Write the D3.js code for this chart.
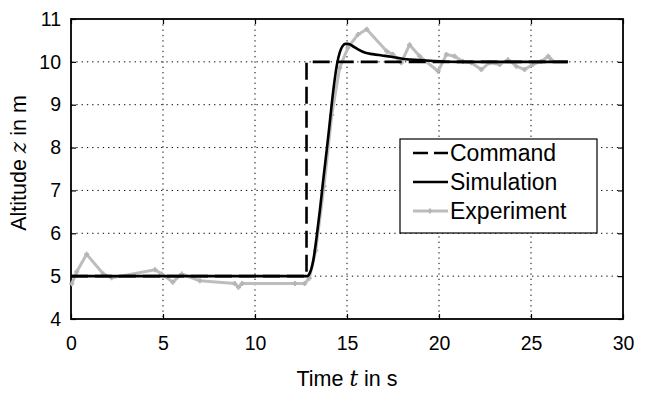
<!DOCTYPE html>
<html><head><meta charset="utf-8">
<script src="https://cdn.jsdelivr.net/npm/d3@7"></script>
<style>body{margin:0;background:#fff}svg{display:block}text{font-family:"Liberation Sans",Arial,sans-serif;fill:#000}</style>
</head><body><svg id="c" width="647" height="399"></svg>
<script>
// Axis ticks
const xTicks = [0, 5, 10, 15, 20, 25, 30];
const yTicks = [4, 5, 6, 7, 8, 9, 10, 11];

// Altitude command (step)
const commandT = [0, 12.8, 12.8, 27];
const commandZ = [5, 5, 10, 10];

// Simulated altitude response
const simT = [0, 12.85, 12.95, 13.05, 13.17, 13.35, 13.53, 13.71, 13.9, 14.08, 14.26, 14.45, 14.62, 14.75, 14.9, 15.07, 15.3, 15.6, 16.0, 16.4, 16.9, 17.4, 18.2, 19.0, 19.7, 21, 27];
const simZ = [5, 5, 5.05, 5.15, 5.37, 5.92, 6.55, 7.25, 7.95, 8.65, 9.35, 9.93, 10.24, 10.36, 10.42, 10.42, 10.37, 10.29, 10.21, 10.18, 10.15, 10.12, 10.06, 10.04, 10.02, 10.0, 10.0];

// Measured altitude in flight
const expT = [0.04, 0.31, 0.85, 1.76, 2.21, 4.57, 4.93, 5.53, 6.02, 7.0, 8.9, 9.1, 9.3, 12.17, 12.7, 12.95, 13.3, 13.75, 14.17, 14.6, 15.05, 15.6, 16.07, 17.16, 17.5, 17.95, 18.4, 18.95, 19.95, 20.4, 20.85, 21.3, 21.75, 22.3, 22.75, 23.3, 23.75, 24.2, 24.65, 25.1, 25.55, 25.94, 26.1];
const expZ = [4.82, 5.1, 5.51, 5.05, 4.96, 5.15, 5.05, 4.86, 5.05, 4.89, 4.83, 4.74, 4.83, 4.83, 4.83, 4.95, 5.6, 7.1, 8.76, 9.86, 10.33, 10.64, 10.76, 10.25, 10.17, 9.98, 10.4, 10.13, 9.78, 10.17, 10.13, 10.01, 9.98, 9.82, 9.98, 9.94, 10.05, 9.9, 9.82, 9.94, 10.01, 10.13, 10.05];

const legendLabels = ["Command", "Simulation", "Experiment"];

const L = 71, R = 623, T = 19, B = 319;
const svg = d3.select("#c");
const x = d3.scaleLinear().domain([0, 30]).range([L, R]);
const y = d3.scaleLinear().domain([4, 11]).range([B, T]);

// dotted grid
const grid = svg.append("g").attr("stroke", "#000").attr("stroke-width", 1).attr("stroke-dasharray", "1.3,4");
grid.selectAll(".gx").data(xTicks.slice(1, -1)).join("line")
  .attr("x1", d => x(d)).attr("x2", d => x(d)).attr("y1", T).attr("y2", B);
grid.selectAll(".gy").data(yTicks.slice(1, -1)).join("line")
  .attr("x1", L).attr("x2", R).attr("y1", d => y(d)).attr("y2", d => y(d));

// axes with inward ticks
const ax = svg.append("g");
ax.append("g").attr("transform", `translate(0,${B})`)
  .call(d3.axisBottom(x).tickValues(xTicks).tickSize(-5).tickPadding(17).tickFormat(d3.format("d")));
ax.append("g").attr("transform", `translate(${L},0)`)
  .call(d3.axisLeft(y).tickValues(yTicks).tickSize(-5).tickPadding(10).tickFormat(d3.format("d")));
ax.append("g").attr("transform", `translate(0,${T})`)
  .call(d3.axisTop(x).tickValues(xTicks).tickSize(-5).tickFormat(""));
ax.append("g").attr("transform", `translate(${R},0)`)
  .call(d3.axisRight(y).tickValues(yTicks).tickSize(-5).tickFormat(""));
ax.selectAll(".domain").remove();
ax.selectAll(".tick line").attr("stroke", "#000").attr("stroke-width", 1.2);
ax.selectAll(".tick text").attr("font-size", 19.5).attr("font-family", "Liberation Sans, Arial, sans-serif").attr("fill", "#000");
svg.append("rect").attr("x", L).attr("y", T).attr("width", R - L).attr("height", B - T)
  .attr("fill", "none").attr("stroke", "#000").attr("stroke-width", 1.8);

const line = d3.line().x(d => x(d[0])).y(d => y(d[1]));
const zip = (a, b) => a.map((v, i) => [v, b[i]]);

// experiment
const expData = zip(expT, expZ);
svg.append("path").attr("d", line(expData)).attr("fill", "none")
  .attr("stroke", "#bdbdbd").attr("stroke-width", 3).attr("stroke-linejoin", "round");
svg.append("g").selectAll("path").data(expData).join("path")
  .attr("d", d => `M${x(d[0]) - 2.5},${y(d[1])}h5M${x(d[0])},${y(d[1]) - 2.5}v5`)
  .attr("stroke", "#b5b5b5").attr("stroke-width", 2);

// command
svg.append("path").attr("d", line(zip(commandT, commandZ))).attr("fill", "none")
  .attr("stroke", "#000").attr("stroke-width", 2.6).attr("stroke-dasharray", "17,7");

// simulation
svg.append("path").attr("d", d3.line().x(d => x(d[0])).y(d => y(d[1])).curve(d3.curveMonotoneX)(zip(simT, simZ)))
  .attr("fill", "none").attr("stroke", "#000").attr("stroke-width", 2.6).attr("stroke-linejoin", "round");

// legend
const lg = svg.append("g");
lg.append("rect").attr("x", 400).attr("y", 139).attr("width", 197).attr("height", 94)
  .attr("fill", "#fff").attr("stroke", "#000").attr("stroke-width", 1.2);
const rows = [153, 182, 211];
lg.append("line").attr("x1", 413).attr("x2", 448).attr("y1", rows[0]).attr("y2", rows[0])
  .attr("stroke", "#000").attr("stroke-width", 2.6).attr("stroke-dasharray", "15,6");
lg.append("line").attr("x1", 413).attr("x2", 448).attr("y1", rows[1]).attr("y2", rows[1])
  .attr("stroke", "#000").attr("stroke-width", 2.6);
lg.append("line").attr("x1", 413).attr("x2", 448).attr("y1", rows[2]).attr("y2", rows[2])
  .attr("stroke", "#bdbdbd").attr("stroke-width", 3);
lg.append("path").attr("d", `M427.5,${rows[2]}h5M430,${rows[2] - 2.5}v5`).attr("stroke", "#b5b5b5").attr("stroke-width", 2);
lg.selectAll("text").data(legendLabels).join("text")
  .attr("x", 450).attr("y", (d, i) => rows[i]).attr("dy", "0.36em").attr("font-size", 23).text(d => d);

// axis labels
const xl = svg.append("text").attr("x", 347).attr("y", 386).attr("text-anchor", "middle").attr("font-size", 21.5);
xl.append("tspan").text("Time ");
xl.append("tspan").attr("font-family", "DejaVu Serif, serif").attr("font-style", "italic").text("t");
xl.append("tspan").text(" in s");
const yl = svg.append("text").attr("transform", "translate(26,163) rotate(-90)").attr("text-anchor", "middle").attr("font-size", 21.5);
yl.append("tspan").text("Altitude ");
yl.append("tspan").attr("font-family", "DejaVu Serif, serif").attr("font-style", "italic").text("z");
yl.append("tspan").text(" in m");
</script></body></html>
